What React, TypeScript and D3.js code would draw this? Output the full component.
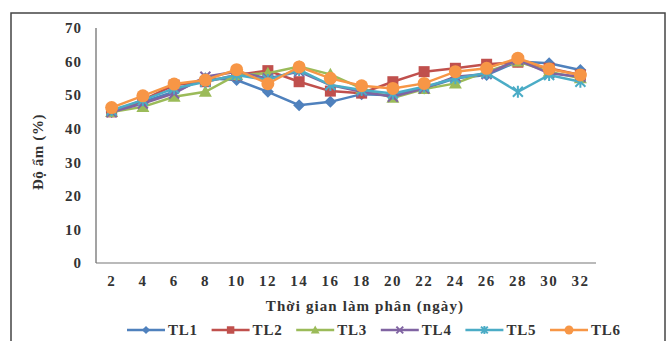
import React from "react";
import * as d3 from "d3";

const days = ["2", "4", "6", "8", "10", "12", "14", "16", "18", "20", "22", "24", "26", "28", "30", "32"];
const yTicks = [0, 10, 20, 30, 40, 50, 60, 70];

const tl1 = [45, 48, 51, 55, 54.5, 51, 47, 48, 50.3, 50, 52, 55, 56, 60, 59.5, 57.5];
const tl2 = [45, 48.5, 53, 54, 56, 57.3, 54, 51.2, 50.6, 54, 57, 58, 59.2, 59.8, 58, 56];
const tl3 = [45, 46.5, 49.5, 51, 56, 56.5, 58.5, 56.2, 52, 49.2, 51.8, 53.5, 57, 60, 57, 55];
const tl4 = [45, 47.5, 50.5, 55.5, 57, 55, 57, 53, 51, 49.5, 52, 55.5, 56.3, 60.5, 56.5, 55.5];
const tl5 = [45.5, 48.5, 52, 54, 56, 54.5, 57.5, 53, 51.5, 50.5, 52.5, 55, 56.6, 51, 56, 54];
const tl6 = [46.3, 49.8, 53.3, 54.5, 57.6, 53.4, 58.4, 55, 52.8, 52, 53.5, 57, 58, 61, 57.8, 56];

type Series = { name: string; values: number[]; color: string; marker: string };

const series: Series[] = [
    { name: "TL1", values: tl1, color: "#4F81BD", marker: "diamond" },
    { name: "TL2", values: tl2, color: "#C0504D", marker: "square" },
    { name: "TL3", values: tl3, color: "#9BBB59", marker: "triangle" },
    { name: "TL4", values: tl4, color: "#8064A2", marker: "cross" },
    { name: "TL5", values: tl5, color: "#4BACC6", marker: "star" },
    { name: "TL6", values: tl6, color: "#F79646", marker: "circle" },
];

const font = "'Liberation Serif', 'Times New Roman', serif";

// s = scale factor for marker size (1 in plot, smaller in legend)
const Marker: React.FC<{ kind: string; x: number; y: number; color: string; s?: number }> = ({
    kind,
    x,
    y,
    color,
    s = 1,
}) => {
    if (kind === "diamond") {
        const r = 6 * s;
        return <path d={`M${x},${y - r}L${x + r},${y}L${x},${y + r}L${x - r},${y}Z`} fill={color} />;
    }
    if (kind === "square") {
        const r = 5.5 * s;
        return <rect x={x - r} y={y - r} width={2 * r} height={2 * r} fill={color} />;
    }
    if (kind === "triangle") {
        const r = 6.5 * s;
        return <path d={`M${x},${y - r}L${x + r},${y + r * 0.77}L${x - r},${y + r * 0.77}Z`} fill={color} />;
    }
    if (kind === "cross") {
        const r = 5 * s;
        return (
            <path
                d={`M${x - r},${y - r}L${x + r},${y + r}M${x - r},${y + r}L${x + r},${y - r}`}
                stroke={color}
                strokeWidth={2}
            />
        );
    }
    if (kind === "star") {
        const r = 5 * s;
        return (
            <path
                d={`M${x - r},${y - r}L${x + r},${y + r}M${x - r},${y + r}L${x + r},${y - r}M${x},${y - r * 1.2}L${x},${y + r * 1.2}`}
                stroke={color}
                strokeWidth={2}
            />
        );
    }
    return <circle cx={x} cy={y} r={6.5 * s} fill={color} />;
};

export default function App() {
    const width = 668;
    const height = 341;

    const x = d3.scaleBand().domain(days).range([96, 596]);
    const y = d3.scaleLinear().domain([0, 70]).range([263, 28]);
    const cx = (d: string) => (x(d) ?? 0) + x.bandwidth() / 2;

    const line = d3
        .line<number>()
        .x((_, i) => cx(days[i]))
        .y((v) => y(v));

    const legendX0 = 127;
    const legendStep = 84.6;
    const legendY = 330;

    return (
        <svg
            width={width}
            height={height}
            style={{ position: "absolute", left: 0, top: 0, background: "#fff" }}
            fontFamily={font}
        >
            <rect x={11} y={13} width={654} height={340} fill="#fff" stroke="#444" strokeWidth={1.5} />

            {/* axes */}
            <line x1={96} x2={96} y1={y(70)} y2={y(0)} stroke="#666" strokeWidth={1.2} />
            <line x1={96} x2={596} y1={y(0)} y2={y(0)} stroke="#777" strokeWidth={1.2} />

            {yTicks.map((t) => (
                <text
                    key={t}
                    x={82}
                    y={y(t)}
                    dy="0.35em"
                    textAnchor="end"
                    fontSize={15}
                    fontWeight="bold"
                    letterSpacing={1}
                    fill="#333"
                >
                    {t}
                </text>
            ))}

            {days.map((d) => (
                <text
                    key={d}
                    x={cx(d)}
                    y={281}
                    dy="0.35em"
                    textAnchor="middle"
                    fontSize={15}
                    fontWeight="bold"
                    letterSpacing={1.5}
                    fill="#333"
                >
                    {d}
                </text>
            ))}

            <text
                transform={`translate(38,152) rotate(-90)`}
                textAnchor="middle"
                dy="0.35em"
                fontSize={15}
                fontWeight="bold"
                letterSpacing={0.6}
                fill="#333"
            >
                Độ ẩm (%)
            </text>

            <text
                x={365}
                y={306}
                dy="0.35em"
                textAnchor="middle"
                fontSize={15}
                fontWeight="bold"
                letterSpacing={1.1}
                fill="#333"
            >
                Thời gian làm phân (ngày)
            </text>

            {series.map((s) => (
                <g key={s.name}>
                    <path d={line(s.values) ?? ""} fill="none" stroke={s.color} strokeWidth={2.5} />
                    {s.values.map((v, i) => (
                        <Marker key={i} kind={s.marker} x={cx(days[i])} y={y(v)} color={s.color} />
                    ))}
                </g>
            ))}

            {series.map((s, i) => {
                const lx = legendX0 + i * legendStep;
                return (
                    <g key={s.name}>
                        <line x1={lx} x2={lx + 38} y1={legendY} y2={legendY} stroke={s.color} strokeWidth={2.5} />
                        <Marker kind={s.marker} x={lx + 19} y={legendY} color={s.color} s={0.68} />
                        <text
                            x={lx + 41}
                            y={legendY}
                            dy="0.35em"
                            fontSize={15}
                            fontWeight="bold"
                            letterSpacing={0.8}
                            fill="#333"
                        >
                            {s.name}
                        </text>
                    </g>
                );
            })}
        </svg>
    );
}
